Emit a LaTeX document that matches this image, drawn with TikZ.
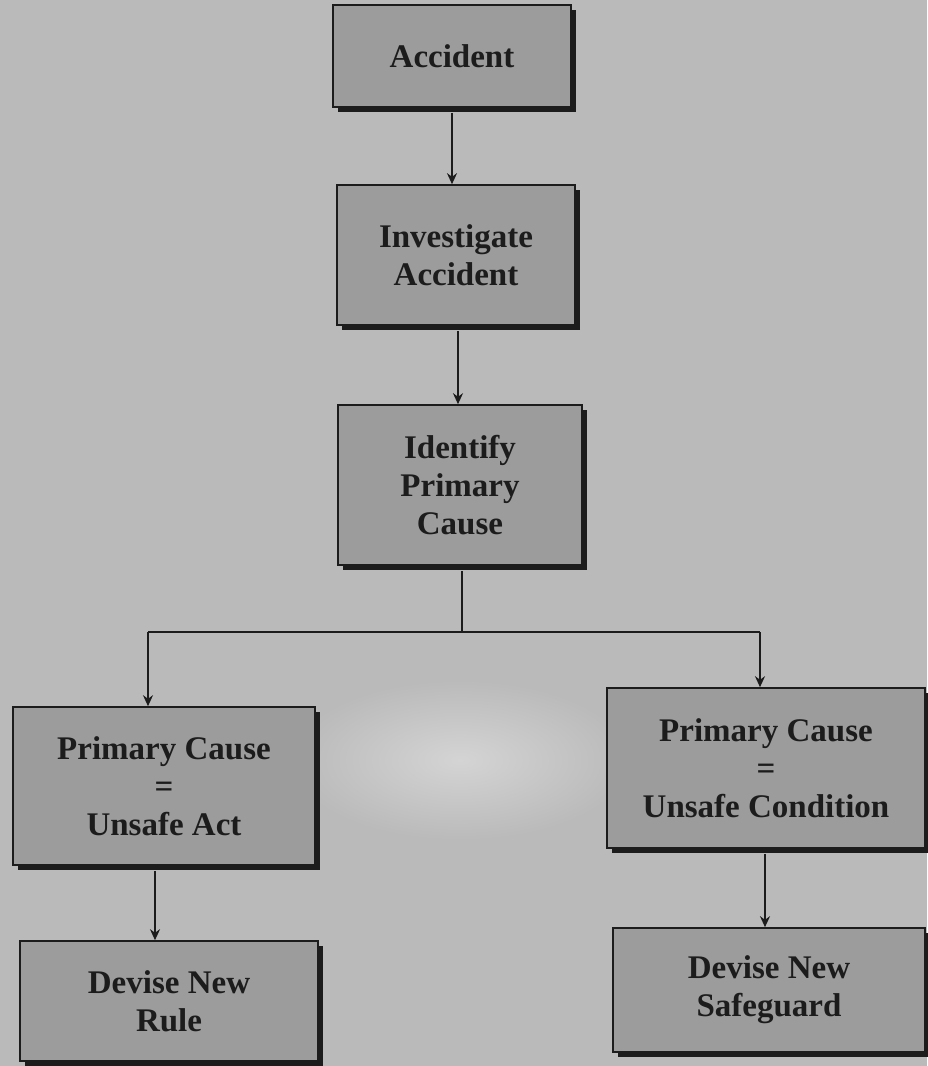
\documentclass[tikz,border=0pt]{standalone}
\usepackage{fontspec}
\setmainfont{Liberation Serif}
\usetikzlibrary{arrows.meta}
\definecolor{paper}{RGB}{186,186,186}
\definecolor{paperlight}{RGB}{212,212,212}
\definecolor{boxfill}{RGB}{156,156,156}
\definecolor{ink}{RGB}{28,28,28}
\tikzset{
  x=1pt, y=-1pt,
  stepbox/.style={draw=ink, line width=1.6pt, fill=boxfill, align=center,
    font=\fontsize{33}{38}\selectfont\bfseries, text=ink,
    inner sep=0pt, rectangle},
  shade box/.style={fill=ink},
  link/.style={draw=ink, line width=1.8pt},
  arr/.style={link, -{Stealth[length=11pt,width=10pt]}},
}
\begin{document}
\begin{tikzpicture}
  % page and the soft light patch in the middle
  \fill[paper] (0,0) rectangle (927,1066);
  \shade[inner color=paperlight, outer color=paper] (460,760) ellipse (170 and 80);
  \useasboundingbox (0,0) rectangle (927,1066);

  % drop shadows
  \foreach \cx/\cy/\w/\h in {452/56/238/102, 456/255/238/140, 460/485/244/160,
      164/786/302/158, 766/768/318/160, 169/1001/298/120, 769/990/312/124}{
    \fill[shade box] (\cx-\w/2+5,\cy-\h/2+5) rectangle (\cx+\w/2+5,\cy+\h/2+5);
  }

  % boxes
  \node[stepbox, minimum width=238pt, minimum height=102pt] (acc) at (452,56) {Accident};
  \node[stepbox, minimum width=238pt, minimum height=140pt] (inv) at (456,255) {Investigate\\Accident};
  \node[stepbox, minimum width=244pt, minimum height=160pt] (idf) at (460,485) {Identify\\Primary\\Cause};
  \node[stepbox, minimum width=302pt, minimum height=158pt] (ua) at (164,786) {Primary Cause\\=\\Unsafe Act};
  \node[stepbox, minimum width=318pt, minimum height=160pt] (uc) at (766,768) {Primary Cause\\=\\Unsafe Condition};
  \node[stepbox, minimum width=298pt, minimum height=120pt] (rule) at (169,1001) {Devise New\\Rule};
  \node[stepbox, minimum width=312pt, minimum height=124pt] (safe) at (769,990) {Devise New\\Safeguard};

  % branching points and arrow columns
  \coordinate (j)  at (462,632);
  \coordinate (jl) at (148,632);
  \coordinate (jr) at (760,632);
  \coordinate (c1) at (452,0);
  \coordinate (c2) at (458,0);
  \coordinate (c3) at (155,0);
  \coordinate (c4) at (765,0);

  % connectors
  \draw[arr] ([yshift=-5pt]c1 |- acc.south) -- (c1 |- inv.north);
  \draw[arr] ([yshift=-5pt]c2 |- inv.south) -- (c2 |- idf.north);
  \draw[link] ([yshift=-5pt]j |- idf.south) -- (j);
  \draw[link] (jl) -- (jr);
  \draw[arr] (jl) -- (jl |- ua.north);
  \draw[arr] (jr) -- (jr |- uc.north);
  \draw[arr] ([yshift=-5pt]c3 |- ua.south) -- (c3 |- rule.north);
  \draw[arr] ([yshift=-5pt]c4 |- uc.south) -- (c4 |- safe.north);
\end{tikzpicture}
\end{document}
